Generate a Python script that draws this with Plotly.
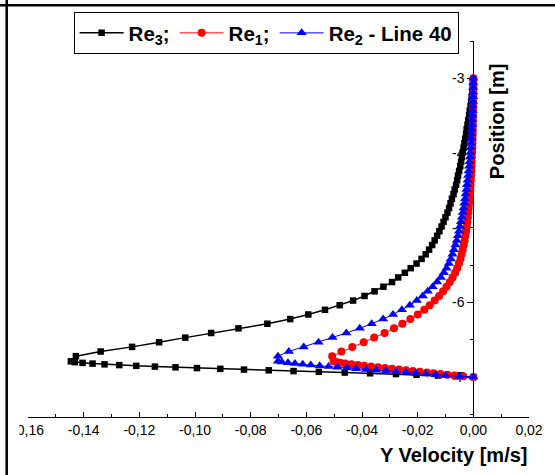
import plotly.graph_objects as go

# Position [m] along the probe line (shared by the three series)
POS_UPPER = [-3.000, -3.062, -3.124, -3.186, -3.248, -3.310, -3.372, -3.434, -3.496, -3.558,
             -3.620, -3.682, -3.744, -3.806, -3.868, -3.930, -3.992, -4.054, -4.116, -4.178,
             -4.240, -4.302, -4.364, -4.426, -4.488, -4.550, -4.612, -4.674, -4.736, -4.798,
             -4.860, -4.922, -4.984, -5.046, -5.108, -5.170, -5.232, -5.294, -5.356, -5.418,
             -5.480, -5.542, -5.604, -5.666, -5.728, -5.790, -5.852, -5.914, -5.976, -6.038,
             -6.100, -6.162, -6.224, -6.286, -6.348, -6.410, -6.472, -6.534, -6.596, -6.658,
             -6.720]
POS_LOWER = [-6.79, -6.80, -6.81, -6.82, -6.83, -6.84, -6.85, -6.86, -6.87, -6.88, -6.89,
             -6.90, -6.91, -6.92, -6.93, -6.94, -6.95, -6.96, -6.97, -6.98, -6.99, -7.00]
POSITION = POS_UPPER + POS_LOWER

# Y Velocity [m/s]
RE3 = [0.0000, -0.0001, -0.0002, -0.0004, -0.0006, -0.0008, -0.0010, -0.0013, -0.0015, -0.0018,
       -0.0021, -0.0024, -0.0026, -0.0029, -0.0032, -0.0035, -0.0038, -0.0041, -0.0044, -0.0047,
       -0.0051, -0.0055, -0.0058, -0.0062, -0.0067, -0.0071, -0.0077, -0.0082, -0.0087, -0.0093,
       -0.0100, -0.0107, -0.0114, -0.0122, -0.0130, -0.0139, -0.0148, -0.0159, -0.0171, -0.0186,
       -0.0204, -0.0225, -0.0246, -0.0270, -0.0292, -0.0323, -0.0355, -0.0391, -0.0432, -0.0480,
       -0.0533, -0.0593, -0.0658, -0.0740, -0.0844, -0.0942, -0.1035, -0.1129, -0.1226, -0.1339,
       -0.1428,
       -0.1446, -0.1432, -0.1404, -0.1368, -0.1325, -0.1272, -0.1211, -0.1144, -0.1070, -0.0993,
       -0.0909, -0.0824, -0.0735, -0.0646, -0.0555, -0.0462, -0.0371, -0.0278, -0.0204, -0.0127,
       -0.0061, 0.0000]

RE1 = [0.00000, -0.00001, -0.00001, -0.00002, -0.00004, -0.00005, -0.00006, -0.00008, -0.00011, -0.00013,
       -0.00016, -0.00020, -0.00023, -0.00027, -0.00032, -0.00037, -0.00043, -0.00050, -0.00057, -0.00064,
       -0.00071, -0.00080, -0.00089, -0.00100, -0.00110, -0.00121, -0.00135, -0.00150, -0.00164, -0.00178,
       -0.00196, -0.00214, -0.00235, -0.00260, -0.00285, -0.00314, -0.00346, -0.00381, -0.00421, -0.00463,
       -0.00517, -0.00581, -0.00656, -0.00748, -0.00845, -0.00962, -0.01087, -0.01230, -0.01390, -0.01568,
       -0.01764, -0.01996, -0.02263, -0.02548, -0.02851, -0.03190, -0.03564, -0.03938, -0.04348, -0.04740,
       -0.05071,
       -0.0502, -0.0492, -0.0478, -0.0460, -0.0438, -0.0415, -0.0392, -0.0367, -0.0342, -0.0317,
       -0.0292, -0.0267, -0.0242, -0.0217, -0.0192, -0.0167, -0.0143, -0.0118, -0.0093, -0.0068,
       -0.0036, 0.0000]

RE2 = [0.00000, -0.00001, -0.00003, -0.00006, -0.00010, -0.00014, -0.00019, -0.00025, -0.00031, -0.00038,
       -0.00046, -0.00055, -0.00064, -0.00073, -0.00084, -0.00096, -0.00109, -0.00123, -0.00137, -0.00151,
       -0.00168, -0.00185, -0.00203, -0.00225, -0.00246, -0.00271, -0.00296, -0.00321, -0.00349, -0.00378,
       -0.00410, -0.00442, -0.00478, -0.00513, -0.00552, -0.00595, -0.00642, -0.00695, -0.00748, -0.00809,
       -0.00880, -0.00962, -0.01058, -0.01165, -0.01301, -0.01461, -0.01639, -0.01818, -0.02031, -0.02281,
       -0.02566, -0.02887, -0.03243, -0.03653, -0.04081, -0.04562, -0.05061, -0.05560, -0.06094, -0.06629,
       -0.07021,
       -0.0702, -0.0688, -0.0666, -0.0641, -0.0613, -0.0584, -0.0552, -0.0520, -0.0488, -0.0454,
       -0.0421, -0.0385, -0.0349, -0.0314, -0.0278, -0.0242, -0.0207, -0.0171, -0.0135, -0.0100,
       -0.0050, 0.0000]

X_TICKS = [-0.16, -0.14, -0.12, -0.10, -0.08, -0.06, -0.04, -0.02, 0.00, 0.02]
X_TICK_TEXT = ["-0,16", "-0,14", "-0,12", "-0,10", "-0,08", "-0,06", "-0,04", "-0,02", "0,00", "0,02"]
Y_TICKS = [-7, -6, -5, -4, -3]
Y_TICK_TEXT = ["-7", "-6", "-5", "-4", "-3"]

X_RANGE = [-0.16, 0.02]
Y_RANGE = [-7.535, -2.5]

fig = go.Figure()
fig.add_trace(go.Scatter(
    x=RE3, y=POSITION, mode="lines+markers", name="<b>Re<sub>3</sub>;</b>",
    line=dict(color="#000000", width=1.5),
    marker=dict(symbol="square", size=6.5, color="#000000")))
fig.add_trace(go.Scatter(
    x=RE1, y=POSITION, mode="lines+markers", name="<b>Re<sub>1</sub>;</b>",
    line=dict(color="#FF0000", width=1),
    marker=dict(symbol="circle", size=8, color="#FF0000")))
fig.add_trace(go.Scatter(
    x=RE2, y=POSITION, mode="lines+markers", name="<b>Re<sub>2</sub> - Line 40</b>",
    line=dict(color="#0000FF", width=1),
    marker=dict(symbol="triangle-up", size=9, color="#0000FF")))

x_minor = [(X_TICKS[i] + X_TICKS[i + 1]) / 2 for i in range(len(X_TICKS) - 1)]
y_minor = [v - 0.5 for v in Y_TICKS] + [Y_TICKS[-1] + 0.5]

fig.update_layout(
    width=555, height=475,
    margin=dict(l=25, r=24, t=39, b=58),
    paper_bgcolor="white", plot_bgcolor="white",
    font=dict(family="Liberation Sans, Arial, sans-serif", color="black", size=14),
    showlegend=True,
    legend=dict(orientation="h", x=0.091, y=1.077, xanchor="left", yanchor="top",
                bordercolor="black", borderwidth=1, bgcolor="white",
                font=dict(size=20.5, family="Liberation Sans, Arial, sans-serif"),
                tracegroupgap=0, itemwidth=44),
    xaxis=dict(range=X_RANGE, tickmode="array", tickvals=X_TICKS, ticktext=X_TICK_TEXT,
               ticks="inside", ticklen=5, tickwidth=1, tickcolor="black",
               minor=dict(tickvals=x_minor, ticks="inside", ticklen=3, tickcolor="black"),
               showline=True, linecolor="black", linewidth=1, mirror=False,
               showgrid=False, zeroline=False, tickfont=dict(size=14)),
    yaxis=dict(range=Y_RANGE, tickmode="array", tickvals=Y_TICKS, ticktext=Y_TICK_TEXT,
               anchor="free", position=0.16 / 0.18, side="left",
               ticks="outside", ticklen=6, tickwidth=1, tickcolor="black",
               minor=dict(tickvals=y_minor, ticks="outside", ticklen=3, tickcolor="black"),
               showline=True, linecolor="black", linewidth=1,
               showgrid=False, zeroline=False, layer="below traces",
               tickfont=dict(size=14)),
)

fig.add_annotation(text="<b>Y Velocity [m/s]</b>", xref="paper", yref="paper",
                   x=1.0, y=-0.10, xanchor="right", yanchor="middle", showarrow=False,
                   font=dict(size=20))
fig.add_annotation(text="<b>Position [m]</b>", xref="paper", yref="paper",
                   x=0.935, y=0.788, xanchor="center", yanchor="middle", showarrow=False,
                   textangle=-90, font=dict(size=20))

# frame lines of the picture and clipped left label
fig.add_shape(type="rect", xref="paper", yref="paper", x0=-0.040, x1=-0.017, y0=-0.01, y1=-0.07,
              fillcolor="white", line=dict(width=0), layer="above")
fig.add_shape(type="line", xref="paper", yref="paper", x0=-0.0425, x1=-0.0425, y0=-0.16, y1=1.11,
              line=dict(color="black", width=2.5), layer="above")
fig.add_shape(type="line", xref="paper", yref="paper", x0=-0.06, x1=1.06, y0=1.0952, y1=1.0952,
              line=dict(color="black", width=2.5), layer="above")

fig.write_html("out.html", config={"displayModeBar": False},
               post_script="document.body.style.margin='0px';document.body.style.overflow='hidden';")
